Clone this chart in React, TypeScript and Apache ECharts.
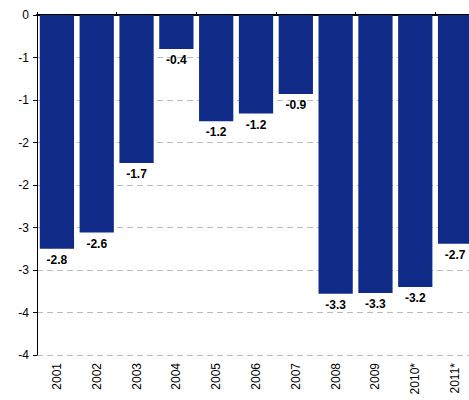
import React, { useEffect, useRef } from 'react';
import * as echarts from 'echarts';

const years = ['2001', '2002', '2003', '2004', '2005', '2006', '2007', '2008', '2009', '2010*', '2011*'];
const values = [-2.75, -2.56, -1.74, -0.4, -1.25, -1.16, -0.93, -3.28, -3.27, -3.2, -2.69];
const valueLabels = ['-2.8', '-2.6', '-1.7', '-0.4', '-1.2', '-1.2', '-0.9', '-3.3', '-3.3', '-3.2', '-2.7'];
const tickLabels: Record<string, string> = {
  '0': '0', '-0.5': '-1', '-1': '-1', '-1.5': '-2', '-2': '-2',
  '-2.5': '-3', '-3': '-3', '-3.5': '-4', '-4': '-4',
};

const App: React.FC = () => {
  const ref = useRef<HTMLDivElement>(null);
  useEffect(() => {
    if (!ref.current) return;
    const chart = echarts.init(ref.current, null, { renderer: 'svg' });
    chart.setOption({
      animation: false,
      textStyle: { fontFamily: 'Liberation Sans, Arial, sans-serif' },
      grid: { left: 37, right: 0, top: 15, bottom: 45 },
      xAxis: [
        {
          type: 'category', data: years, position: 'bottom',
          axisLine: { show: false }, axisTick: { show: false },
          axisLabel: { rotate: 90, color: '#000', fontSize: 12, margin: 8 },
        },
        {
          type: 'category', data: years, position: 'top',
          axisLine: { show: true, lineStyle: { color: '#000', width: 2 } },
          axisTick: { show: true, length: 3, lineStyle: { color: '#000' } },
          axisLabel: { show: false },
        },
      ],
      yAxis: {
        type: 'value', min: -4, max: 0, interval: 0.5,
        axisLine: { show: true, lineStyle: { color: '#000' } },
        axisTick: { show: true, length: 4, lineStyle: { color: '#000' } },
        axisLabel: { color: '#000', fontSize: 12, formatter: (v: number) => tickLabels[String(v)] ?? String(v) },
        splitLine: { show: true, lineStyle: { color: '#bbb', type: [6, 4] } },
      },
      series: [{
        type: 'bar', data: values, barCategoryGap: '14%',
        itemStyle: { color: '#0f2a87' },
        label: {
          show: true, position: 'bottom', color: '#000', fontWeight: 'bold', fontSize: 12,
          formatter: (p: any) => valueLabels[p.dataIndex],
        },
      }],
    });
    return () => chart.dispose();
  }, []);
  return <div ref={ref} style={{ position: 'absolute', left: 0, top: 0, width: 475, height: 400 }} />;
};

export default App;
